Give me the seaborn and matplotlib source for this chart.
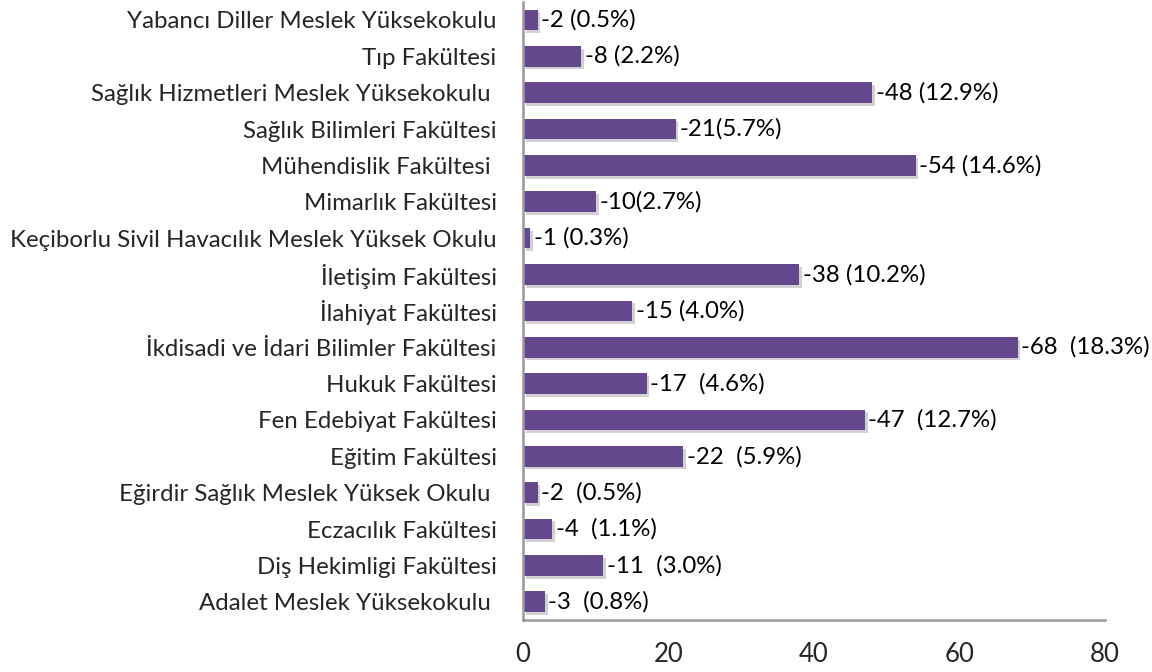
import matplotlib
matplotlib.use('Agg')
import matplotlib.pyplot as plt
import matplotlib.patheffects as pe
import seaborn as sns
import pandas as pd

faculties = ['Yabancı Diller Meslek Yüksekokulu', 'Tıp Fakültesi',
             'Sağlık Hizmetleri Meslek Yüksekokulu ', 'Sağlık Bilimleri Fakültesi',
             'Mühendislik Fakültesi ', 'Mimarlık Fakültesi',
             'Keçiborlu Sivil Havacılık Meslek Yüksek Okulu', 'İletişim Fakültesi',
             'İlahiyat Fakültesi', 'İkdisadi ve İdari Bilimler Fakültesi',
             'Hukuk Fakültesi', 'Fen Edebiyat Fakültesi', 'Eğitim Fakültesi',
             'Eğirdir Sağlık Meslek Yüksek Okulu ', 'Eczacılık Fakültesi',
             'Diş Hekimligi Fakültesi', 'Adalet Meslek Yüksekokulu ']
counts = [2, 8, 48, 21, 54, 10, 1, 38, 15, 68, 17, 47, 22, 2, 4, 11, 3]
value_labels = ['-2 (0.5%)', '-8 (2.2%)', '-48 (12.9%)', '-21(5.7%)', '-54 (14.6%)',
                '-10(2.7%)', '-1 (0.3%)', '-38 (10.2%)', '-15 (4.0%)', '-68  (18.3%)',
                '-17  (4.6%)', '-47  (12.7%)', '-22  (5.9%)', '-2  (0.5%)', '-4  (1.1%)',
                '-11  (3.0%)', '-3  (0.8%)']
x_ticks = [0, 20, 40, 60, 80]

df = pd.DataFrame({'fakulte': faculties, 'sayi': counts})

sns.set_style('white')
plt.rcParams['font.family'] = ['Lato', 'DejaVu Sans']

fig = plt.figure(figsize=(11.52, 6.72), dpi=100)
ax = fig.add_axes([0.454, 0.0774, 0.505, 0.92])

sns.barplot(data=df, x='sayi', y='fakulte', orient='h', color='#64478d',
            width=0.57, saturation=1, ax=ax)
for p in ax.patches:
    p.set_path_effects([pe.SimplePatchShadow(offset=(2, -2), alpha=0.2), pe.Normal()])
    p.set_edgecolor('none')

# etiketler: -sayi (yuzde)
for i, (v, t) in enumerate(zip(counts, value_labels)):
    ax.text(v + 0.5, i, t, va='center', ha='left', fontsize=17.3, color='black')

ax.set_xlim(0, 80)
ax.set_ylim(16.5, -0.5)
ax.set_xticks(x_ticks)
ax.tick_params(axis='x', labelsize=18.5, length=0, pad=16)
ax.tick_params(axis='y', labelsize=17.3, length=0, pad=19)
ax.set_xlabel('')
ax.set_ylabel('')
for s in ['top', 'right']:
    ax.spines[s].set_visible(False)
for s in ['left', 'bottom']:
    ax.spines[s].set_color('#999999')
    ax.spines[s].set_linewidth(1.8)

fig.savefig('out.png', dpi=100)
